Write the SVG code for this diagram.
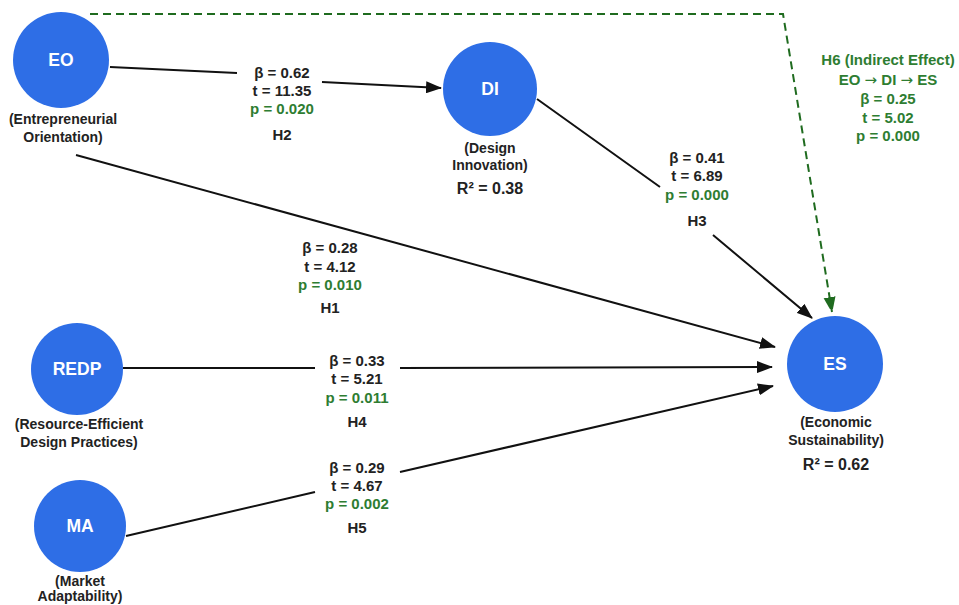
<svg xmlns="http://www.w3.org/2000/svg" width="959" height="605" viewBox="0 0 959 605">
<defs>
<marker id="ah" markerUnits="userSpaceOnUse" markerWidth="16" markerHeight="12" refX="15" refY="6" orient="auto"><path d="M0,0 L16,6 L0,12 Z" fill="#111"/></marker>
<marker id="ahg" markerUnits="userSpaceOnUse" markerWidth="12" markerHeight="16" refX="15" refY="6" orient="auto"><path d="M0,0 L16,6 L0,12 Z" fill="#1f6b1f"/></marker>
</defs>
<style>
.node{fill:#2e6ee6}
.nt{font-family:"Liberation Sans",Arial,sans-serif;font-weight:bold;font-size:17.5px;fill:#fff;text-anchor:middle}
.lb{font-family:"Liberation Sans",Arial,sans-serif;font-weight:bold;font-size:14px;fill:#222;text-anchor:middle}
.v{font-family:"Liberation Sans",Arial,sans-serif;font-weight:bold;font-size:15px;fill:#222;text-anchor:middle}
.ar{font-family:"DejaVu Sans",sans-serif;font-weight:normal}
.g{fill:#2e7d32}
.edge{stroke:#111;stroke-width:2;fill:none}
.ind{stroke:#1f6b1f;stroke-width:2;fill:none;stroke-dasharray:8 5}
</style>
<rect width="959" height="605" fill="#fff"/>
<g id="connectors">
<path class="edge" d="M110,67 L237,73 M322,82 L441,88" marker-end="url(#ah)"/>
<path class="edge" d="M76,155 L775,347" marker-end="url(#ah)"/>
<path class="edge" d="M537,99 L660,187 M713,235 L812,318" marker-end="url(#ah)"/>
<path class="edge" d="M123,368 L315,368 M400,368 L772,367" marker-end="url(#ah)"/>
<path class="edge" d="M126,536 L315,492 M400,472 L773,386" marker-end="url(#ah)"/>
<path class="ind" d="M90,14 L783,14 L832,312" marker-end="url(#ahg)"/>
</g>
<g id="labels">
<g id="lab-H2"><text class="v" x="282" y="78">β = 0.62</text><text class="v" x="282" y="96">t = 11.35</text><text class="v g" x="282" y="114">p = 0.020</text><text class="v" x="282" y="140">H2</text></g>
<g id="lab-H1"><text class="v" x="330" y="253">β = 0.28</text><text class="v" x="330" y="272">t = 4.12</text><text class="v g" x="330" y="290">p = 0.010</text><text class="v" x="330" y="313">H1</text></g>
<g id="lab-H3"><text class="v" x="697" y="163">β = 0.41</text><text class="v" x="697" y="181">t = 6.89</text><text class="v g" x="697" y="200">p = 0.000</text><text class="v" x="697" y="226">H3</text></g>
<g id="lab-H4"><text class="v" x="357" y="366">β = 0.33</text><text class="v" x="357" y="384">t = 5.21</text><text class="v g" x="357" y="403">p = 0.011</text><text class="v" x="357" y="427">H4</text></g>
<g id="lab-H5"><text class="v" x="357" y="473">β = 0.29</text><text class="v" x="357" y="491">t = 4.67</text><text class="v g" x="357" y="509">p = 0.002</text><text class="v" x="357" y="533">H5</text></g>
<g id="lab-H6"><text class="v g" x="888" y="65">H6 (Indirect Effect)</text><text class="v g" x="888" y="85">EO <tspan class="ar">→</tspan> DI <tspan class="ar">→</tspan> ES</text><text class="v g" x="888" y="104">β = 0.25</text><text class="v g" x="888" y="123">t = 5.02</text><text class="v g" x="888" y="141">p = 0.000</text></g>
</g>
<g id="EO"><circle class="node" cx="61" cy="60" r="48"/><text class="nt" x="61" y="66">EO</text><text class="lb" x="63" y="124">(Entrepreneurial</text><text class="lb" x="63" y="142">Orientation)</text></g>
<g id="DI"><circle class="node" cx="490" cy="89" r="47"/><text class="nt" x="490" y="95">DI</text><text class="lb" x="490" y="153">(Design</text><text class="lb" x="490" y="170">Innovation)</text><text class="v" x="490" y="194" style="font-size:16px">R² = 0.38</text></g>
<g id="ES"><circle class="node" cx="835" cy="364" r="48"/><text class="nt" x="835" y="370">ES</text><text class="lb" x="836" y="427">(Economic</text><text class="lb" x="836" y="445">Sustainability)</text><text class="v" x="836" y="470" style="font-size:16px">R² = 0.62</text></g>
<g id="REDP"><circle class="node" cx="77" cy="369" r="46"/><text class="nt" x="77" y="375">REDP</text><text class="lb" x="79" y="429">(Resource-Efficient</text><text class="lb" x="79" y="447">Design Practices)</text></g>
<g id="MA"><circle class="node" cx="80" cy="526" r="46"/><text class="nt" x="80" y="532">MA</text><text class="lb" x="80" y="586">(Market</text><text class="lb" x="80" y="601">Adaptability)</text></g>
</svg>
